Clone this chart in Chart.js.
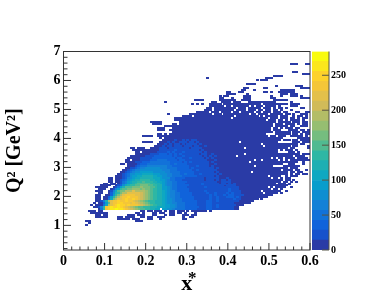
<!DOCTYPE html>
<html lang="en">
<head>
    <meta charset="UTF-8">
    <title>Q2 vs x*</title>
    <script src="https://cdn.jsdelivr.net/npm/chart.js"></script>
    <style>
        html, body { margin: 0; padding: 0; background: white; }
        .plot { position: relative; width: 374px; height: 302px; overflow: hidden; }
        #heatChart { position: absolute; left: 0; top: 0; }
        #paletteChart { position: absolute; left: 312px; top: 40px; }
    </style>
</head>
<body>
    <div class="plot">
        <canvas id="heatChart" width="374" height="302"></canvas>
        <canvas id="paletteChart" width="62" height="222"></canvas>
    </div>
    <script>
        // histogram binning
        const xRange = [0, 0.6];
        const yRange = [0.15, 7];
        const binsX = 100;
        const binsY = 100;
        const zMax = 284;

        const zMajorTicks = [0, 50, 100, 150, 200, 250];

        // one colour per palette band, bottom to top
        const bandColors = ['#2a3ba6', '#1752cc', '#1063db', '#1272d9', '#1481d6', '#0e8ed1', '#099dcc',
            '#0ea8c1', '#1eafb3', '#2eb7a4', '#51ba91', '#75bd7f', '#96be71', '#b3bd66', '#d1bb59',
            '#e3c04a', '#f4c638', '#fdd22b', '#fbe71c', '#f9fb0e'];

        // top row first. "col:cells", each cell is the palette band in base 36, '.' is empty
        const firstRow = 93;
        const cellRows = [
            "92:000...00", "", "", "",
            "93:00", "97:000", "85:0000", "58:0 82:000", "78:0 80:000", "",
            "74:0000", "86:0 94:000", "73:00 81:00 96:0000", "72:00 77:0 88:000000",
            "66:00 71:00 81:00 84:0 87:0000000",
            "66:0000 74:0 88:000 92:000",
            "63:0 65:00 73:000 84:0 88:0 92:000 96:0",
            "63:00 68:0 73:000 84:00 96:0000",
            "53:0000 63:00 65:00000 72:0000 85:000000",
            "41:0 60:00 64:0000.000 75:00000000000 92:0",
            "52:0.0.0 59:00000 65:00000000000 76:0000.0000 85:000000 92:0000",
            "59:000000.00.000000.0.000.0000.0 92:000",
            "58:00.000000000.000.00000.000.0.00.0 96:00",
            "57:000.00000000.0000.000.00.00.00.0 88:0 92:0",
            "54:00000 60:000.0000.00.00000.00.000.00 87:0.00 94:00 98:00",
            "42:0 51:000000000.000.0000000000.00.0000.00000 90:00.0 96:000",
            "48:0000 53:0000000000000000.000000000.0.00000.000 93:0.00.0",
            "45:00000000000000000000000.00000000000000.000.000.00.0.00",
            "45:00000 50:00000000000000000000000000000000.000.00.0.0000.0",
            "35:00000 47:000000000000000000000000000000000000000.00000.000.00",
            "36:0000 44:00 47:00000000000000000000000000000000000000.000.0000.0.00",
            "41:0000 45:0000000000000000000000000000000000000000.00000.00..000.00",
            "38:000 44:0000000000000000000000000000000000000000.00.0.000.00",
            "38:000 43:00000000000000000000000000000000000000000.000...0000.00.00",
            // r59
            "44:0000000000000000 60:0000000000000000000000000.000000.000.000",
            "38:00.0 43:00000000000000000 60:0000000000000000000000....000000.00.0.00",
            "32:0000 38:0000 42:000000000000000000 60:00000000000000000000000.00.000..00000.0.",
            "39:0 41:0000000000000000000 60:00000000000000000000000000000......000000.0",
            "40:00000100101011000000 60:0000000000000000000000000000.000.00.0000",
            "32:0000 39:0 40:00101001110110100000 60:00000000000.000000000000000......000.000",
            "38:00 40:01010110101111010000 60:00000000000000000000.00000000000000.00..",
            "37:000 40:10110111011101100100 60:000000000000000000000.0000000000.00....0",
            "27:00.000 35:00001 40:11011111111011110000 60:0000000000000.00000000000000000.00.....0",
            "28:00000 33:0000001 40:11111211111111101000 60:000000000000000000000000000.0.000.0.....0",
            "29:00.0 32:00000011 40:11212111211111110100 60:000000000000000000000000000....000.0....0",
            "29:00000011112 40:22121212111111101100 60:1000000000000.0000000000000000000000.000",
            "27:0000001111222 40:22221211211111110101 60:0100000000.0000000000000000000000.0000",
            "26:00000111112222 40:22222122111211111010 60:100000000000000000000000.0.00.0000.0000",
            "25:00.000111122233 40:33222212211111111100 60:01000000000000000.00.000000.0.0.00000000",
            "25:000011122233333 40:33322222121211111110 60:100000000000000.0000000000000000000..0",
            "23:00.000012223333333 40:33322322221111111110 60:01000000000000000000000000000..000...0",
            "26:00012333444444 40:44332222222111211110 60:10000000000000000.0000000....0000000....",
            "25:001123445555554 40:44333322222121111111 60:1010000000000000000000000000000.000....",
            "24:0012344555555555 40:44433322222211211111 60:1100000000000000000000000000.0000.00..0.",
            "23:00123455666665555 40:54433332222221111111 60:1010000000000000.00000000000000.00.00...",
            "22:001235566677776665 40:55443332232221121111 60:1101000000000000000000000000000.0.00.00",
            "21:0001235667788887766 40:55443333222222111111 60:10100000000000000000000.0000..0.000.",
            // r36
            "18:00.00012456778888877766 40:55533222211111111011 60:111000100000000000000000.00.0.00....",
            "18:00.0012356788999988776 40:65433222111111111011 60:10101101000000000000000000000.00.0....",
            "18:00.00134678899a9998877 40:65443322221111111111 60:1100111100000000000000000000.00.0.0...",
            "16:00.00.01346789aaaaa99887 40:65443322211111112111 60:11101101010000000000000000.000.0......",
            "15:0000..01257899aabbbaa9988 40:65443322222111111111 60:1111101111000000000000000000000.......",
            "13:00000..01368aaabbbcbbbaa988 40:66543322221111111211 60:11111111111000000000000.0.0000..0......",
            "14:000..01469aabbcccbcbba9988 40:66543322222111111111 60:111111121110000000000000.00.0..........",
            "13:000..0147abbdddfddddcba9988 40:76544322222111111211 60:11111112111100000000.0000000..0.........",
            "14:00..02589bddfffffedcba9988 40:76544332222211111121 60:121111212111000000000.00000.0...........",
            "13:00..00269bdfggggffedcba9988 40:76544332222211111112 60:1211121221111000000000000...............",
            "13:00.00269bdfgghgggfedcba9988 40:76544332222221111112 60:11211122212100000000000",
            "13:00.0037bdffghgghgfedcba9988 40:76554333222221111112 60:1121111112110000000.0",
            "13:00148dfgghgghggfedcba999888 40:76554333222222111122 60:11211111111000000",
            "12:0.0026afgghhgggfgfedcba99888 40:76554433322222111122 60:1111111110000000",
            "11:0.00037dfghihhghgggfedcba9988 40:76655433322222111122 60:1121111111000",
            "12:00149ghihhihgfedcbaa99988877 40:76655433322222211122 60:11211111100",
            "14:039ghiijiihgfedcbaa998877 7 40:66554333322222111122 60:11111111100",
            // below the solid edge
            "10:000.00 31:00.00.000.0.00.000.0.00.000.0 54:0.0",
            "11:000 14:0000 29:00.0 36:00.00..00.0 47:0.0 53:0",
            "13:00.00 26:000.000 36:00 41:0 43:00 48:000 52:00",
            "13:00000 22:00 25:0000 31:00.00 38:000 48:0 51:00",
            "22:00000.00 28:000 34:00 39:0 48:00",
            "9:00 29:000",
            "10:0",
            "9:0"
        ];

        const binW = (xRange[1] - xRange[0]) / binsX;
        const binH = (yRange[1] - yRange[0]) / binsY;

        // decode the rows into one point list per palette band
        const bandPoints = bandColors.map(() => []);
        cellRows.forEach((line, i) => {
            const row = firstRow - i;
            const seen = {};
            line.split(' ').filter(seg => seg.includes(':')).forEach(seg => {
                const parts = seg.split(':');
                const start = parseInt(parts[0], 10);
                for (let k = 0; k < parts[1].length; k++) {
                    if (parts[1][k] !== '.' && start + k < binsX) seen[start + k] = parseInt(parts[1][k], 36);
                }
            });
            Object.keys(seen).forEach(col => {
                bandPoints[seen[col]].push({
                    x: xRange[0] + (Number(col) + 0.5) * binW,
                    y: yRange[0] + (row + 0.5) * binH
                });
            });
        });

        // small tile used as point style, a bit wider than a bin so no seams show
        function cellTile(color) {
            const tile = document.createElement('canvas');
            tile.width = 3;
            tile.height = 2;
            const g = tile.getContext('2d');
            g.fillStyle = color;
            g.fillRect(0, 0, 3, 2);
            return tile;
        }

        // ROOT style ticks pointing into the frame
        function drawTick(ctx, x1, y1, x2, y2) {
            ctx.beginPath();
            ctx.moveTo(x1, y1);
            ctx.lineTo(x2, y2);
            ctx.stroke();
        }

        const frameTicks = {
            id: 'frameTicks',
            afterDraw(chart) {
                const ctx = chart.ctx;
                const a = chart.chartArea;
                ctx.save();
                ctx.strokeStyle = '#333333';
                ctx.lineWidth = 1;
                ctx.strokeRect(a.left, a.top, a.right - a.left, a.bottom - a.top);
                for (let i = 0; i <= 30; i++) {
                    const x = chart.scales.x.getPixelForValue(i * 0.02);
                    drawTick(ctx, x, a.bottom, x, a.bottom - (i % 5 === 0 ? 7 : 3.5));
                }
                for (let i = 1; i < 35; i++) {
                    const v = i * 0.2;
                    const y = chart.scales.y.getPixelForValue(v);
                    if (y < a.bottom) drawTick(ctx, a.left, y, a.left + (i % 5 === 0 ? 7.5 : 4), y);
                }
                // the star of x* sits raised next to the axis title
                ctx.fillStyle = '#000';
                ctx.font = 'bold 17px "Liberation Serif"';
                ctx.textAlign = 'left';
                ctx.textBaseline = 'alphabetic';
                ctx.fillText('*', 188, 283);
                ctx.restore();
            }
        };

        new Chart(document.getElementById('heatChart'), {
            type: 'scatter',
            data: {
                datasets: bandColors.map((color, k) => ({
                    data: bandPoints[k],
                    pointStyle: cellTile(color),
                    pointRadius: 1,
                    order: bandColors.length - k
                }))
            },
            options: {
                responsive: false,
                animation: false,
                layout: { padding: { left: 0, top: 51.5, right: 64, bottom: 0 } },
                plugins: { legend: { display: false }, tooltip: { enabled: false } },
                scales: {
                    x: {
                        type: 'linear',
                        min: xRange[0],
                        max: xRange[1],
                        afterFit(s) { s.height = 52; },
                        grid: { display: false, drawTicks: false },
                        border: { display: false },
                        ticks: {
                            stepSize: 0.1,
                            padding: 3,
                            maxRotation: 0,
                            color: '#000',
                            font: { family: 'Liberation Serif', weight: 'bold', size: 14 }
                        },
                        title: {
                            display: true,
                            text: 'x',
                            color: '#000',
                            padding: { top: 0, bottom: 4 },
                            font: { family: 'Liberation Serif', weight: 'bold', size: 22 }
                        }
                    },
                    y: {
                        type: 'linear',
                        min: yRange[0],
                        max: yRange[1],
                        afterFit(s) { s.width = 63.5; },
                        grid: { display: false, drawTicks: false },
                        border: { display: false },
                        ticks: {
                            stepSize: 1,
                            includeBounds: false,
                            padding: 3,
                            color: '#000',
                            font: { family: 'Liberation Serif', weight: 'bold', size: 14 }
                        },
                        title: {
                            display: true,
                            text: 'Q\u00b2 [GeV\u00b2]',
                            color: '#000',
                            padding: { top: 3, bottom: 0 },
                            font: { family: 'Liberation Serif', weight: 'bold', size: 20 }
                        }
                    }
                }
            },
            plugins: [frameTicks]
        });

        // palette next to the frame, one stacked bar piece per band
        const paletteTicks = {
            id: 'paletteTicks',
            afterDraw(chart) {
                const ctx = chart.ctx;
                const a = chart.chartArea;
                ctx.save();
                ctx.strokeStyle = '#555544';
                ctx.lineWidth = 1;
                drawTick(ctx, a.right, a.top, a.right, a.bottom);
                zMajorTicks.forEach(v => {
                    const y = chart.scales.y.getPixelForValue(v);
                    drawTick(ctx, a.right, y, a.right - 7, y);
                });
                ctx.restore();
            }
        };

        new Chart(document.getElementById('paletteChart'), {
            type: 'bar',
            data: {
                labels: ['z'],
                datasets: bandColors.map(color => ({
                    data: [zMax / bandColors.length],
                    backgroundColor: color,
                    barPercentage: 1,
                    categoryPercentage: 1
                }))
            },
            options: {
                responsive: false,
                animation: false,
                layout: { padding: { left: 0, top: 11.5, right: 0, bottom: 12 } },
                plugins: { legend: { display: false }, tooltip: { enabled: false } },
                scales: {
                    x: { stacked: true, display: false },
                    y: {
                        stacked: true,
                        position: 'right',
                        min: 0,
                        max: zMax,
                        afterFit(s) { s.width = 45; },
                        grid: { display: false, drawTicks: false },
                        border: { display: false },
                        ticks: {
                            stepSize: 50,
                            includeBounds: false,
                            padding: 2,
                            color: '#000',
                            font: { family: 'Liberation Serif', weight: 'bold', size: 10 }
                        }
                    }
                }
            },
            plugins: [paletteTicks]
        });
    </script>
</body>
</html>
